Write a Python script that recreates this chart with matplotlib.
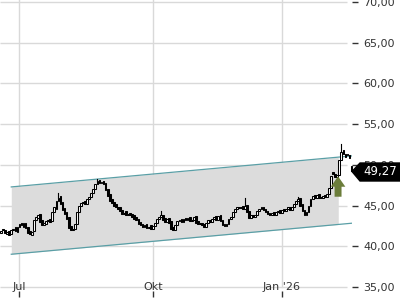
import matplotlib
matplotlib.use('Agg')
import matplotlib.pyplot as plt
from matplotlib.patches import Polygon
from matplotlib.transforms import Affine2D

# daily candles (index = trading day)
closes = [41.9, 42.0, 41.6, 41.8, 41.4, 42.0, 42.2, 41.9, 42.4, 42.8,
          42.6, 42.9, 42.3, 41.7, 41.5, 41.8, 43.2, 43.6, 43.9, 43.0,
          42.6, 42.9, 43.1, 43.3, 43.0, 44.2, 44.8, 45.6, 46.0, 45.2,
          44.5, 44.0, 43.4, 42.3, 42.0, 42.2, 42.8, 44.2, 45.0, 45.3,
          45.4, 45.2, 45.8, 46.1, 46.6, 47.0, 47.6, 48.0, 47.8, 47.9,
          47.6, 46.9, 46.2, 45.6, 45.3, 45.0, 44.8, 44.6, 44.3, 44.0,
          44.1, 43.9, 44.0, 43.8, 43.6, 43.4, 43.2, 42.8, 42.6, 42.4,
          42.6, 42.3, 42.4, 42.2, 42.5, 42.9, 43.4, 43.6, 43.9, 43.3,
          43.0, 43.4, 42.9, 42.2, 42.0, 42.6, 43.1, 43.3, 43.0, 43.4,
          43.2, 43.5, 43.1, 43.3, 43.6, 42.9, 42.7, 42.9, 42.6, 42.4,
          42.9, 43.2, 43.0, 43.4, 43.6, 43.3, 43.7, 43.1, 42.6, 42.5,
          42.8, 43.4, 43.6, 44.2, 44.6, 44.8, 44.7, 44.9, 44.6, 45.0,
          44.2, 43.5, 43.8, 43.6, 43.9, 44.3, 44.6, 44.8, 44.5, 44.2,
          44.0, 43.9, 44.1, 43.8, 44.2, 44.4, 44.1, 44.5, 44.3, 44.6,
          44.8, 44.5, 44.9, 45.2, 45.6, 45.8, 45.0, 44.3, 43.8, 44.2,
          45.0, 45.8, 46.2, 45.9, 46.3, 46.0, 45.9, 46.2, 46.1, 46.4,
          47.2, 48.7, 48.9, 48.5, 48.8, 50.6, 51.6, 51.3, 51.0, 51.2,
          50.9, 49.27]

opens = [41.7, 42.2, 42.0, 41.5, 41.9, 41.5, 42.0, 42.4, 41.8, 42.4,
         42.9, 42.4, 42.9, 42.4, 41.9, 41.4, 41.9, 43.2, 43.5, 44.0,
         43.2, 42.6, 42.8, 43.1, 43.4, 43.1, 44.2, 44.6, 45.6, 46.2,
         45.4, 44.7, 44.2, 43.6, 42.5, 42.0, 42.2, 42.8, 44.2, 45.0,
         45.3, 45.6, 45.2, 45.8, 46.1, 46.6, 47.0, 47.6, 48.2, 47.8,
         48.0, 47.8, 47.1, 46.4, 45.8, 45.5, 45.2, 44.9, 44.8, 44.5,
         44.0, 44.3, 43.9, 44.1, 44.0, 43.8, 43.6, 43.4, 43.0, 42.8,
         42.4, 42.7, 42.3, 42.6, 42.2, 42.5, 42.9, 43.4, 43.6, 43.9,
         43.5, 43.0, 43.5, 43.1, 42.4, 42.0, 42.6, 43.1, 43.4, 43.0,
         43.5, 43.2, 43.6, 43.1, 43.3, 43.7, 43.1, 42.7, 42.9, 42.8,
         42.4, 42.9, 43.3, 43.0, 43.4, 43.7, 43.3, 43.8, 43.3, 42.8,
         42.5, 42.8, 43.4, 43.6, 44.2, 44.6, 44.9, 44.7, 45.0, 44.6,
         45.1, 44.4, 43.5, 43.9, 43.6, 43.9, 44.3, 44.6, 44.9, 44.6,
         44.4, 44.1, 43.9, 44.2, 43.8, 44.2, 44.5, 44.1, 44.6, 44.3,
         44.6, 44.9, 44.5, 44.9, 45.2, 45.6, 45.9, 45.2, 44.5, 43.8,
         44.2, 45.0, 45.8, 46.3, 45.9, 46.4, 46.1, 45.9, 46.3, 46.1,
         46.4, 47.2, 49.1, 48.9, 48.5, 48.8, 50.6, 51.8, 51.3, 51.2,
         51.2, 49.9]

# longer upper shadows that stick out of the bodies
spike_idx = [28, 47, 78, 119, 145, 166]
spike_high = [46.5, 48.3, 44.3, 46.0, 46.1, 52.6]

# trend channel
chan_x = [5, 171]
chan_upper = [47.3, 51.1]
chan_lower = [39.05, 42.85]
chan_fill_end = 164.5

# signal arrow
arrow_x = 164.4
arrow_from = 46.1
arrow_to = 48.6

last_price = 49.27

yticks = [35, 40, 45, 50, 55, 60, 65, 70]
xtick_pos = [9, 74, 137]
xtick_labels = ['Jul', 'Okt', "Jan '26"]

fig = plt.figure(figsize=(4, 3), dpi=100)
ax = fig.add_axes([0, 3 / 300, 352 / 400, 297 / 300])
ax.set_xlim(-0.5, 171.2)
ax.set_ylim(33.81, 70.21)
for s in ax.spines.values():
    s.set_visible(False)

grid_col = '#d9d9d9'
txt_col = '#333333'

# horizontal grid
ax.hlines(yticks, -0.5, 169.0, color=grid_col, lw=1, zorder=0)
# vertical grid
for xp in xtick_pos:
    ax.plot([xp, xp], [35, 70.21], color=grid_col, lw=1, zorder=0)

# channel fill + lines
def chan_at(x, ys):
    return ys[0] + (ys[1] - ys[0]) * (x - chan_x[0]) / (chan_x[1] - chan_x[0])

ax.fill_between([chan_x[0], chan_fill_end],
                [chan_lower[0], chan_at(chan_fill_end, chan_lower)],
                [chan_upper[0], chan_at(chan_fill_end, chan_upper)],
                color='#dcdcdc', lw=0, zorder=1)
ax.plot(chan_x, chan_upper, color='#5a9fa6', lw=0.9, zorder=2)
ax.plot(chan_x, chan_lower, color='#5a9fa6', lw=0.9, zorder=2)

# candles
highs = [max(o, c) for o, c in zip(opens, closes)]
for i, h in zip(spike_idx, spike_high):
    highs[i] = h
for i, (o, c) in enumerate(zip(opens, closes)):
    lo, hi = min(o, c), max(o, c)
    if highs[i] > hi:
        ax.plot([i, i], [hi, highs[i]], color='black', lw=0.8, zorder=3)
    fc = 'white' if c >= o else 'black'
    ax.bar(i, max(hi - lo, 0.12), bottom=lo, width=0.85, color=fc,
           edgecolor='black', linewidth=0.75, zorder=4, clip_on=False)

# arrow
ax.annotate('', xy=(arrow_x, arrow_to), xytext=(arrow_x, arrow_from),
            arrowprops=dict(arrowstyle='simple,head_width=1.05,head_length=0.75,tail_width=0.5',
                            color='#6b7d3a', lw=0, shrinkA=0, shrinkB=0),
            zorder=5)

# y axis on the right
ax.yaxis.tick_right()
ax.set_yticks(yticks)
ax.set_yticklabels([('%.2f' % v).replace('.', ',') for v in yticks])
ax.tick_params(axis='y', direction='out', length=4, width=1, color=txt_col,
               pad=4, labelsize=8, labelcolor=txt_col)

# x ticks (small marks at the bottom, labels sit on the 35 line)
ax.set_xticks(xtick_pos)
ax.set_xticklabels([])
ax.tick_params(axis='x', direction='in', length=4, width=1, color=txt_col)
for xp, lab in zip(xtick_pos, xtick_labels):
    ax.text(xp, 35, lab, ha='center', va='center', fontsize=8, color=txt_col)

# last price tag (pixel coords, origin top-left)
tag = Polygon([[352, 171.5], [360, 163], [400, 163], [400, 181], [360, 181]],
              closed=True, color='black', zorder=6)
tag.set_transform(Affine2D().scale(1, -1).translate(0, 300))
fig.patches.append(tag)
fig.text(380 / 400, 1 - 172 / 300, ('%.2f' % last_price).replace('.', ','),
         ha='center', va='center', fontsize=8.5, color='white', zorder=7)

fig.savefig('out.png', dpi=100)
